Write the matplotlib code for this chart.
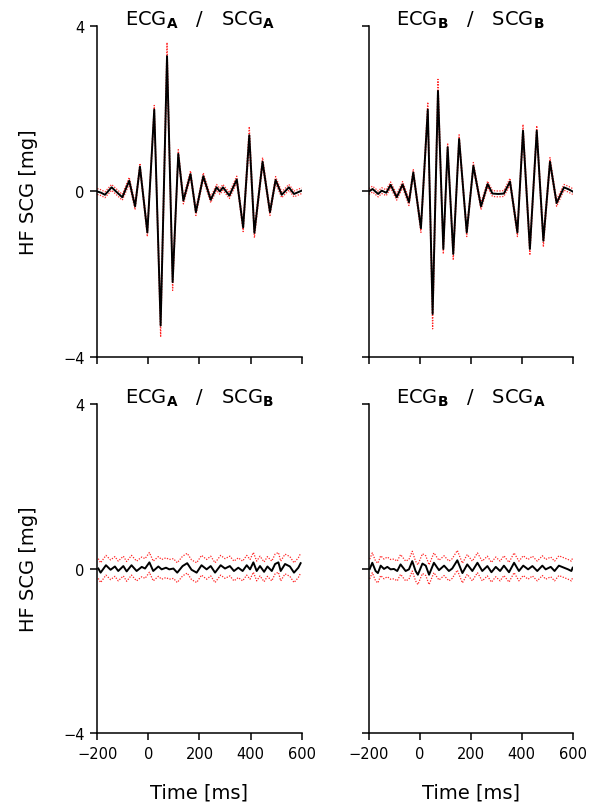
import numpy as np
import matplotlib.pyplot as plt

plt.rcParams['font.family'] = 'DejaVu Sans'
plt.rcParams['mathtext.fontset'] = 'custom'
plt.rcParams['mathtext.bf'] = 'DejaVu Sans:bold'

# ECG_A / SCG_A  (time ms, mean mg, sd mg)
t_aa = [-200, -185, -170, -144, -102, -75, -52, -33, -4, 23, 48, 73, 95, 117, 137, 165, 186,
        215, 244, 267, 280, 292, 317, 346, 371, 395, 415, 447, 476, 498, 522, 550, 570, 600]
m_aa = [0.0, -0.03, -0.08, 0.10, -0.14, 0.26, -0.36, 0.60, -0.99, 1.98, -3.24, 3.27, -2.19, 0.91,
        -0.22, 0.42, -0.50, 0.37, -0.20, 0.10, 0.0, 0.10, -0.10, 0.29, -0.87, 1.36, -1.00, 0.72,
        -0.50, 0.28, -0.08, 0.10, -0.06, 0.02]
s_aa = [0.07, 0.07, 0.07, 0.07, 0.07, 0.08, 0.08, 0.08, 0.1, 0.1, 0.28, 0.33, 0.2, 0.1,
        0.08, 0.08, 0.08, 0.08, 0.07, 0.07, 0.07, 0.07, 0.07, 0.08, 0.1, 0.21, 0.12, 0.1,
        0.08, 0.08, 0.07, 0.07, 0.07, 0.07]

# ECG_B / SCG_B
t_bb = [-200, -186, -164, -150, -132, -115, -91, -68, -43, -26, 4, 31, 50, 71, 92, 109, 131, 154,
        184, 210, 240, 266, 285, 308, 330, 354, 383, 405, 432, 459, 485, 511, 537, 566, 585, 600]
m_bb = [0.0, 0.06, -0.06, 0.02, -0.03, 0.16, -0.14, 0.17, -0.26, 0.46, -0.89, 1.98, -2.96, 2.43,
        -1.39, 1.07, -1.51, 1.27, -0.99, 0.62, -0.36, 0.18, -0.05, -0.06, -0.05, 0.24, -0.99,
        1.47, -1.39, 1.47, -1.19, 0.72, -0.28, 0.10, 0.05, 0.0]
s_bb = [0.07, 0.07, 0.07, 0.07, 0.07, 0.07, 0.07, 0.07, 0.08, 0.08, 0.1, 0.18, 0.36, 0.28,
        0.12, 0.1, 0.15, 0.1, 0.1, 0.08, 0.08, 0.07, 0.07, 0.07, 0.07, 0.08, 0.1, 0.15,
        0.15, 0.12, 0.15, 0.1, 0.08, 0.07, 0.07, 0.07]

# ECG_A / SCG_B
t_ab = [-196, -187, -166, -148, -131, -118, -98, -85, -66, -46, -26, -13, 4, 19, 39, 52, 69, 82,
        98, 113, 134, 152, 169, 189, 208, 228, 244, 261, 283, 300, 319, 335, 352, 369, 385, 398,
        411, 424, 437, 453, 466, 483, 496, 509, 518, 535, 554, 570, 587, 596]
m_ab = [0.0, -0.10, 0.08, -0.03, 0.05, -0.06, 0.06, -0.07, 0.08, -0.06, 0.04, 0.0, 0.15, -0.06,
        0.05, -0.02, 0.02, -0.02, 0.0, -0.10, 0.06, 0.13, -0.03, -0.10, 0.08, -0.02, 0.06, -0.10,
        0.08, 0.0, 0.06, -0.06, 0.02, -0.06, 0.08, -0.02, 0.15, -0.06, 0.06, -0.08, 0.05, -0.06,
        0.11, 0.15, -0.06, 0.11, 0.05, -0.10, 0.02, 0.13]
s_ab = [0.24] * len(t_ab)

# ECG_B / SCG_A
t_ba = [-197, -187, -174, -165, -154, -141, -128, -115, -102, -89, -76, -56, -43, -30, -17, -8,
        10, 23, 36, 55, 75, 95, 114, 127, 147, 167, 186, 206, 226, 245, 265, 281, 298, 315, 330,
        350, 370, 389, 406, 425, 442, 461, 481, 494, 514, 529, 546, 566, 582, 595, 600]
m_ba = [-0.01, 0.14, -0.06, -0.11, 0.07, -0.01, 0.04, -0.02, -0.01, -0.06, 0.10, -0.06, -0.02,
        0.18, -0.06, -0.15, 0.12, 0.07, -0.15, 0.14, -0.04, 0.07, -0.06, 0.0, 0.20, -0.11, 0.10,
        -0.06, 0.14, -0.06, 0.06, -0.09, 0.04, -0.06, 0.07, -0.09, 0.14, -0.06, 0.07, -0.02,
        0.06, -0.06, 0.07, -0.02, 0.04, -0.06, 0.07, 0.02, -0.02, -0.06, 0.02]
s_ba = [0.24] * len(t_ba)

panels = [
    (t_aa, m_aa, s_aa, 'A', 'A'),
    (t_bb, m_bb, s_bb, 'B', 'B'),
    (t_ab, m_ab, s_ab, 'A', 'B'),
    (t_ba, m_ba, s_ba, 'B', 'A'),
]

fig = plt.figure(figsize=(5.99, 8.03), dpi=100)
boxes = [
    [0.1624, 0.5542, 0.3412, 0.4122],
    [0.6160, 0.5542, 0.3400, 0.4122],
    [0.1624, 0.0859, 0.3412, 0.4097],
    [0.6160, 0.0859, 0.3400, 0.4097],
]

for i, (t, m, s, e, c) in enumerate(panels):
    ax = fig.add_axes(boxes[i])
    t = np.array(t)
    m = np.array(m)
    s = np.array(s)
    ax.plot(t, m + s, color='red', lw=0.9, dashes=(1, 1.2), alpha=0.85)
    ax.plot(t, m - s, color='red', lw=0.9, dashes=(1, 1.2), alpha=0.85)
    ax.plot(t, m, color='black', lw=1.4)
    ax.set_xlim(-200, 600)
    ax.set_ylim(-4, 4)
    ax.set_xticks([-200, 0, 200, 400, 600])
    ax.set_yticks([-4, 0, 4])
    for sp in ['top', 'right']:
        ax.spines[sp].set_visible(False)
    for sp in ['left', 'bottom']:
        ax.spines[sp].set_linewidth(1.1)
    ax.tick_params(direction='out', length=5, width=1.1, labelsize=10.5, pad=4)
    ax.text(0.5, 1.004, r'ECG$_{\mathbf{' + e + r'}}$   /   SCG$_{\mathbf{' + c + r'}}$',
            transform=ax.transAxes, ha='center', va='baseline', fontsize=14)
    if i < 2:
        ax.tick_params(labelbottom=False)
    else:
        ax.set_xlabel('Time [ms]', fontsize=14, labelpad=16)
    if i % 2 == 1:
        ax.tick_params(labelleft=False)
    else:
        ax.set_ylabel('HF SCG [mg]', fontsize=14, labelpad=18)

fig.savefig('out.png', dpi=100)
